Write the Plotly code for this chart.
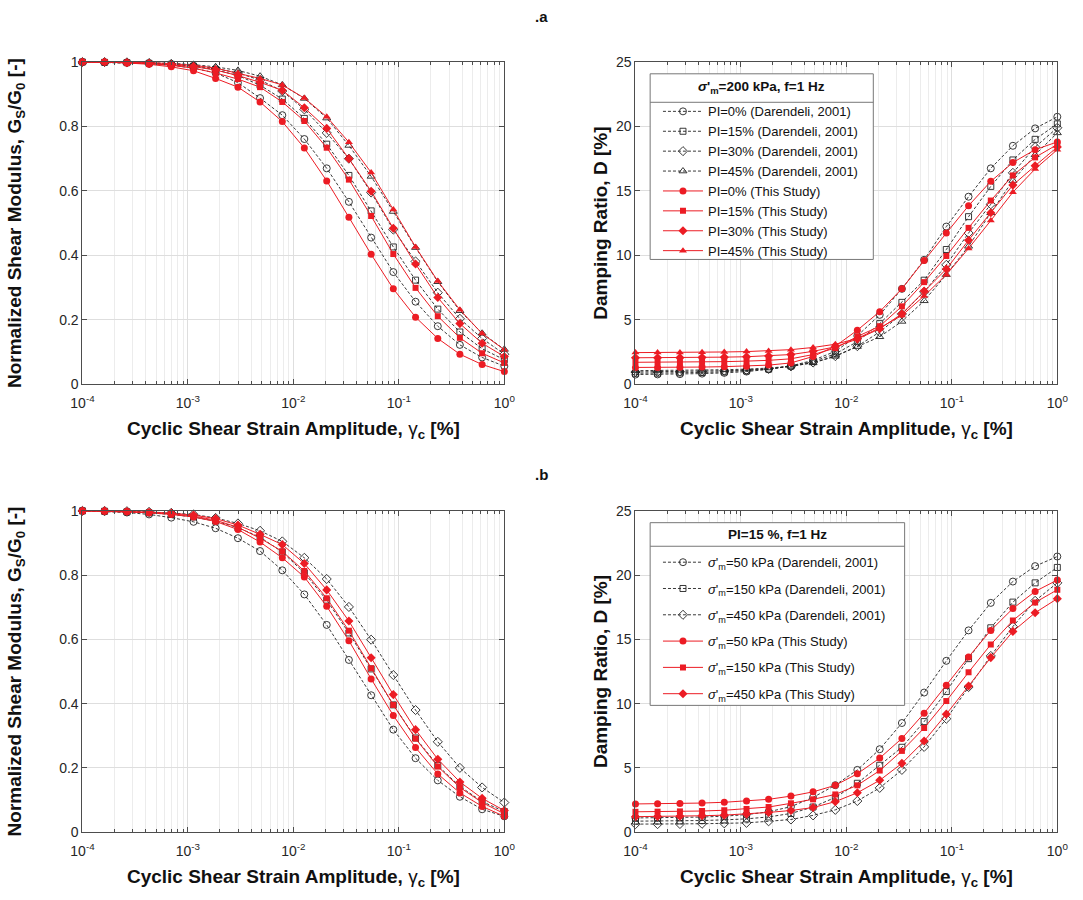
import plotly.graph_objects as go

# Cyclic shear strain amplitudes [%] (20 points per curve, 1e-4 .. 1)
STRAIN = [1.00e-4, 1.62e-4, 2.64e-4, 4.28e-4, 6.95e-4, 1.13e-3, 1.83e-3, 2.98e-3,
          4.83e-3, 7.85e-3, 1.27e-2, 2.07e-2, 3.36e-2, 5.46e-2, 8.86e-2, 1.44e-1,
          2.34e-1, 3.79e-1, 6.16e-1, 1.00]

# ---- (a) sigma'_m = 200 kPa, f = 1 Hz : G/G0 ----
GG_DAR_PI0 = [1.0, 0.999, 0.998, 0.995, 0.990, 0.981, 0.966, 0.936, 0.888, 0.835, 0.761, 0.670, 0.566, 0.455, 0.348, 0.256, 0.180, 0.122, 0.083, 0.056]
GG_DAR_PI15 = [1.0, 0.999, 0.998, 0.996, 0.993, 0.987, 0.976, 0.958, 0.928, 0.885, 0.825, 0.745, 0.648, 0.538, 0.426, 0.323, 0.233, 0.162, 0.110, 0.076]
GG_DAR_PI30 = [1.0, 1.0, 0.999, 0.997, 0.994, 0.989, 0.980, 0.966, 0.944, 0.910, 0.853, 0.780, 0.700, 0.595, 0.480, 0.381, 0.284, 0.203, 0.142, 0.093]
GG_DAR_PI45 = [1.0, 1.0, 0.999, 0.998, 0.996, 0.992, 0.985, 0.974, 0.956, 0.929, 0.887, 0.826, 0.741, 0.645, 0.536, 0.424, 0.318, 0.228, 0.158, 0.108]
GG_TS_PI0 = [1.0, 1.0, 0.997, 0.993, 0.985, 0.973, 0.949, 0.922, 0.876, 0.815, 0.733, 0.631, 0.518, 0.403, 0.296, 0.208, 0.142, 0.093, 0.061, 0.039]
GG_TS_PI15 = [1.0, 1.0, 0.998, 0.995, 0.990, 0.981, 0.966, 0.947, 0.922, 0.876, 0.817, 0.734, 0.635, 0.522, 0.404, 0.299, 0.211, 0.144, 0.096, 0.066]
GG_TS_PI30 = [1.0, 1.0, 0.998, 0.996, 0.992, 0.986, 0.975, 0.958, 0.937, 0.912, 0.858, 0.794, 0.700, 0.599, 0.484, 0.373, 0.269, 0.188, 0.127, 0.086]
GG_TS_PI45 = [1.0, 1.0, 0.999, 0.998, 0.995, 0.990, 0.981, 0.966, 0.949, 0.929, 0.888, 0.830, 0.751, 0.657, 0.542, 0.426, 0.320, 0.231, 0.157, 0.107]

# ---- (a) damping ratio [%] ----
D_DAR_PI0 = [0.75, 0.76, 0.78, 0.82, 0.88, 0.98, 1.15, 1.42, 1.85, 2.55, 3.75, 5.38, 7.40, 9.65, 12.23, 14.55, 16.75, 18.50, 19.85, 20.75]
D_DAR_PI15 = [0.85, 0.86, 0.88, 0.91, 0.96, 1.04, 1.17, 1.40, 1.76, 2.35, 3.30, 4.70, 6.35, 8.07, 10.45, 13.00, 15.35, 17.40, 19.00, 20.20]
D_DAR_PI30 = [0.95, 0.96, 0.97, 1.00, 1.04, 1.10, 1.20, 1.38, 1.68, 2.18, 2.95, 4.05, 5.45, 7.16, 9.26, 11.73, 13.96, 16.40, 18.40, 19.90]
D_DAR_PI45 = [1.05, 1.06, 1.07, 1.09, 1.12, 1.17, 1.25, 1.40, 1.65, 2.16, 2.92, 3.68, 4.87, 6.47, 8.50, 10.70, 13.30, 15.80, 17.80, 19.50]
D_TS_PI0 = [1.30, 1.30, 1.31, 1.33, 1.36, 1.40, 1.48, 1.65, 2.15, 2.95, 4.19, 5.63, 7.41, 9.59, 11.73, 13.85, 15.74, 17.20, 18.20, 18.80]
D_TS_PI15 = [1.70, 1.70, 1.71, 1.73, 1.75, 1.79, 1.85, 1.97, 2.30, 2.80, 3.70, 4.50, 6.04, 7.92, 9.95, 12.13, 14.25, 16.20, 17.60, 18.60]
D_TS_PI30 = [2.05, 2.05, 2.06, 2.08, 2.10, 2.13, 2.19, 2.30, 2.55, 2.90, 3.50, 4.30, 5.46, 7.23, 8.93, 11.17, 13.30, 15.45, 16.95, 18.40]
D_TS_PI45 = [2.45, 2.45, 2.46, 2.48, 2.50, 2.53, 2.58, 2.68, 2.85, 3.10, 3.55, 4.37, 5.33, 6.85, 8.50, 10.53, 12.70, 14.90, 16.70, 18.20]

# ---- (b) PI = 15 %, f = 1 Hz : G/G0 ----
GG_DAR_S50 = [1.0, 0.998, 0.995, 0.989, 0.979, 0.966, 0.946, 0.915, 0.875, 0.815, 0.740, 0.645, 0.536, 0.426, 0.319, 0.230, 0.161, 0.110, 0.071, 0.049]
GG_DAR_S150 = [1.0, 0.999, 0.997, 0.994, 0.989, 0.981, 0.968, 0.948, 0.918, 0.872, 0.807, 0.722, 0.620, 0.508, 0.396, 0.293, 0.207, 0.142, 0.095, 0.064]
GG_DAR_S450 = [1.0, 1.0, 0.999, 0.997, 0.994, 0.989, 0.978, 0.961, 0.938, 0.905, 0.854, 0.788, 0.701, 0.599, 0.489, 0.380, 0.281, 0.200, 0.139, 0.092]
GG_TS_S50 = [1.0, 0.999, 0.997, 0.994, 0.989, 0.981, 0.967, 0.942, 0.903, 0.854, 0.794, 0.703, 0.596, 0.477, 0.363, 0.263, 0.181, 0.122, 0.080, 0.049]
GG_TS_S150 = [1.0, 0.999, 0.998, 0.995, 0.991, 0.984, 0.971, 0.949, 0.915, 0.874, 0.813, 0.728, 0.627, 0.510, 0.396, 0.291, 0.204, 0.139, 0.092, 0.057]
GG_TS_S450 = [1.0, 1.0, 0.998, 0.996, 0.993, 0.987, 0.976, 0.956, 0.927, 0.895, 0.836, 0.754, 0.657, 0.543, 0.428, 0.319, 0.227, 0.156, 0.105, 0.067]

# ---- (b) damping ratio [%] ----
D_DAR_S50 = [1.10, 1.11, 1.13, 1.17, 1.24, 1.36, 1.58, 1.98, 2.70, 3.65, 4.84, 6.45, 8.49, 10.86, 13.33, 15.70, 17.84, 19.50, 20.70, 21.45]
D_DAR_S150 = [0.85, 0.86, 0.87, 0.90, 0.95, 1.03, 1.18, 1.45, 1.95, 2.70, 3.80, 5.20, 6.60, 8.60, 10.94, 13.50, 15.90, 17.90, 19.40, 20.60]
D_DAR_S450 = [0.62, 0.62, 0.63, 0.65, 0.68, 0.72, 0.84, 0.98, 1.30, 1.73, 2.42, 3.44, 4.84, 6.63, 8.82, 11.29, 13.71, 16.00, 18.00, 19.40]
D_TS_S50 = [2.19, 2.20, 2.22, 2.26, 2.32, 2.42, 2.55, 2.80, 3.13, 3.64, 4.54, 5.76, 7.29, 9.25, 11.42, 13.63, 15.70, 17.40, 18.73, 19.62]
D_TS_S150 = [1.58, 1.59, 1.61, 1.64, 1.70, 1.80, 1.95, 2.24, 2.55, 2.93, 3.64, 4.79, 6.32, 8.10, 10.20, 12.44, 14.60, 16.47, 17.87, 18.86]
D_TS_S450 = [1.20, 1.21, 1.23, 1.27, 1.32, 1.40, 1.53, 1.68, 1.91, 2.37, 3.06, 4.03, 5.35, 7.09, 9.18, 11.37, 13.58, 15.62, 17.07, 18.17]

# Axis tick labels
X_TICKS = [1e-4, 1e-3, 1e-2, 1e-1, 1]
X_TICKTEXT = ["10<sup>-4</sup>", "10<sup>-3</sup>", "10<sup>-2</sup>", "10<sup>-1</sup>", "10<sup>0</sup>"]
GG_TICKS = [0, 0.2, 0.4, 0.6, 0.8, 1]
GG_TICKTEXT = ["0", "0.2", "0.4", "0.6", "0.8", "1"]
D_TICKS = [0, 5, 10, 15, 20, 25]

PI_LABELS = ["PI=0%", "PI=15%", "PI=30%", "PI=45%"]
SIG_LABELS = ["<i>σ</i>'<sub>m</sub>=50 kPa", "<i>σ</i>'<sub>m</sub>=150 kPa", "<i>σ</i>'<sub>m</sub>=450 kPa"]
SYMBOLS = ["circle", "square", "diamond", "triangle-up"]
MARKER_SIZE = {"circle": 7, "square": 6, "diamond": 7, "triangle-up": 7}

RED = "#ec1c24"
BLACK = "#222222"
AXIS_COL = "#4d4d4d"
TEXT_COL = "#262626"
GRID = "#dedede"
MINOR_GRID = "#ececec"
FONT = "Liberation Sans, Arial, sans-serif"

W, H = 1083, 900

fig = go.Figure()


def add_curve(xa, ya, yvals, name, symbol, study, legend=None, group=None):
    if study:
        line = dict(color=RED, width=1)
        marker = dict(symbol=symbol, size=MARKER_SIZE[symbol], color=RED,
                      line=dict(width=0))
    else:
        line = dict(color=BLACK, width=0.9, dash="3px,2px")
        marker = dict(symbol=symbol + "-open", size=MARKER_SIZE[symbol], color=BLACK,
                      line=dict(width=0.9, color=BLACK))
    fig.add_trace(go.Scatter(
        x=STRAIN, y=yvals, name=name, mode="lines+markers",
        line=line, marker=marker, xaxis=xa, yaxis=ya, cliponaxis=False,
        showlegend=legend is not None, legend=legend or "legend",
        legendgroup=group,
    ))


# Panel (a)
gg_dar_a = [GG_DAR_PI0, GG_DAR_PI15, GG_DAR_PI30, GG_DAR_PI45]
gg_ts_a = [GG_TS_PI0, GG_TS_PI15, GG_TS_PI30, GG_TS_PI45]
d_dar_a = [D_DAR_PI0, D_DAR_PI15, D_DAR_PI30, D_DAR_PI45]
d_ts_a = [D_TS_PI0, D_TS_PI15, D_TS_PI30, D_TS_PI45]
for lab, sym, ys in zip(PI_LABELS, SYMBOLS, gg_dar_a):
    add_curve("x", "y", ys, lab + " (Darendeli, 2001)", sym, False)
for lab, sym, ys in zip(PI_LABELS, SYMBOLS, gg_ts_a):
    add_curve("x", "y", ys, lab + " (This Study)", sym, True)
for lab, sym, ys in zip(PI_LABELS, SYMBOLS, d_dar_a):
    add_curve("x2", "y2", ys, lab + " (Darendeli, 2001)", sym, False, "legend")
for lab, sym, ys in zip(PI_LABELS, SYMBOLS, d_ts_a):
    add_curve("x2", "y2", ys, lab + " (This Study)", sym, True, "legend")

# Panel (b)
sym_b = ["circle", "square", "diamond"]
gg_dar_b = [GG_DAR_S50, GG_DAR_S150, GG_DAR_S450]
gg_ts_b = [GG_TS_S50, GG_TS_S150, GG_TS_S450]
d_dar_b = [D_DAR_S50, D_DAR_S150, D_DAR_S450]
d_ts_b = [D_TS_S50, D_TS_S150, D_TS_S450]
for lab, sym, ys in zip(SIG_LABELS, sym_b, gg_dar_b):
    add_curve("x3", "y3", ys, lab + " (Darendeli, 2001)", sym, False)
for lab, sym, ys in zip(SIG_LABELS, sym_b, gg_ts_b):
    add_curve("x3", "y3", ys, lab + " (This Study)", sym, True)
for i, (lab, sym, ys) in enumerate(zip(SIG_LABELS, sym_b, d_dar_b)):
    add_curve("x4", "y4", ys, lab + " (Darendeli, 2001)", sym, False, "legend2", f"bd{i}")
for i, (lab, sym, ys) in enumerate(zip(SIG_LABELS, sym_b, d_ts_b)):
    add_curve("x4", "y4", ys, lab + " (This Study)", sym, True, "legend2", f"bt{i}")

X_TITLE = "<b>Cyclic Shear Strain Amplitude, </b>γ<sub><b>c</b></sub><b> [%]</b>"
GG_TITLE = "<b>Normalized Shear Modulus, G<sub>S</sub>/G<sub>0</sub> [-]</b>"
D_TITLE = "<b>Damping Ratio, D [%]</b>"

LEFT_X = [72 / W, 503 / W]
RIGHT_X = [637 / W, 1068 / W]
TOP_Y = [1 - 383 / H, 1 - 55 / H]
BOT_Y = [1 - 839 / H, 1 - 512 / H]


def x_axis(domain, anchor):
    return dict(
        type="log", range=[-4, 0], domain=domain, anchor=anchor,
        tickmode="array", tickvals=X_TICKS, ticktext=X_TICKTEXT,
        ticks="inside", ticklen=5, tickcolor=AXIS_COL, ticklabelstandoff=6,
        showline=True, linecolor=AXIS_COL, linewidth=1, mirror="ticks",
        showgrid=True, gridcolor=GRID, gridwidth=1, zeroline=False,
        minor=dict(dtick="D1", ticks="inside", ticklen=3, tickcolor=AXIS_COL,
                   showgrid=True, gridcolor=MINOR_GRID, gridwidth=1),
        tickfont=dict(size=14, color=TEXT_COL, family=FONT),
        title=dict(text=X_TITLE, font=dict(size=19, color="#111111", family=FONT), standoff=11),
    )


def y_axis(domain, anchor, rng, tickvals, ticktext, title, standoff):
    return dict(
        range=rng, domain=domain, anchor=anchor,
        tickmode="array", tickvals=tickvals, ticktext=ticktext,
        ticks="inside", ticklen=5, tickcolor=AXIS_COL,
        showline=True, linecolor=AXIS_COL, linewidth=1, mirror="ticks",
        showgrid=True, gridcolor=GRID, gridwidth=1, zeroline=False,
        tickfont=dict(size=14, color=TEXT_COL, family=FONT),
        title=dict(text=title, font=dict(size=19, color="#111111", family=FONT), standoff=standoff),
    )


legend_common = dict(
    xanchor="left", yanchor="top", bgcolor="rgba(0,0,0,0)", borderwidth=0,
    font=dict(size=13, color="#111111", family=FONT), itemclick=False, itemwidth=40,
)

# Legend frames (box + header separator), drawn over the curves
LEG_A = dict(x0=652, x1=880, y0=67, y1=256, sep=96, head_y=81)
LEG_B = dict(x0=652, x1=912, y0=524, y1=710, sep=548, head_y=536)

shapes = []
for box in (LEG_A, LEG_B):
    shapes.append(dict(type="rect", xref="paper", yref="paper", layer="above",
                       x0=box["x0"] / W, x1=box["x1"] / W,
                       y0=1 - box["y1"] / H, y1=1 - box["y0"] / H,
                       fillcolor="white", line=dict(color="#777777", width=1)))
    shapes.append(dict(type="line", xref="paper", yref="paper", layer="above",
                       x0=box["x0"] / W, x1=box["x1"] / W,
                       y0=1 - box["sep"] / H, y1=1 - box["sep"] / H,
                       line=dict(color="#777777", width=1)))

fig.update_layout(
    width=W, height=H, margin=dict(l=0, r=0, t=0, b=0),
    paper_bgcolor="white", plot_bgcolor="white",
    font=dict(family=FONT, color=TEXT_COL),
    xaxis=x_axis(LEFT_X, "y"),
    yaxis=y_axis(TOP_Y, "x", [0, 1], GG_TICKS, GG_TICKTEXT, GG_TITLE, 32),
    xaxis2=x_axis(RIGHT_X, "y2"),
    yaxis2=y_axis(TOP_Y, "x2", [0, 25], D_TICKS, [str(v) for v in D_TICKS], D_TITLE, 3),
    xaxis3=x_axis(LEFT_X, "y3"),
    yaxis3=y_axis(BOT_Y, "x3", [0, 1], GG_TICKS, GG_TICKTEXT, GG_TITLE, 32),
    xaxis4=x_axis(RIGHT_X, "y4"),
    yaxis4=y_axis(BOT_Y, "x4", [0, 25], D_TICKS, [str(v) for v in D_TICKS], D_TITLE, 3),
    legend=dict(x=660 / W, y=1 - 90 / H, traceorder="normal", **legend_common),
    legend2=dict(x=660 / W, y=1 - 549 / H, traceorder="grouped", tracegroupgap=6.4,
                 **legend_common),
    shapes=shapes,
    annotations=[
        dict(text="<b>.a</b>", x=541 / W, y=1 - 9 / H, xref="paper", yref="paper",
             yanchor="middle", showarrow=False, font=dict(size=15, color="#111111", family=FONT)),
        dict(text="<b>.b</b>", x=541 / W, y=1 - 475 / H, xref="paper", yref="paper",
             yanchor="middle", showarrow=False, font=dict(size=15, color="#111111", family=FONT)),
        dict(text="<b><i>σ</i>'<sub>m</sub>=200 kPa, f=1 Hz</b>",
             x=(LEG_A["x0"] + LEG_A["x1"]) / 2 / W, y=1 - LEG_A["head_y"] / H,
             xref="paper", yref="paper", xanchor="center", yanchor="middle", showarrow=False,
             font=dict(size=13.5, color="#111111", family=FONT)),
        dict(text="<b>PI=15 %, f=1 Hz</b>",
             x=(LEG_B["x0"] + LEG_B["x1"]) / 2 / W, y=1 - LEG_B["head_y"] / H,
             xref="paper", yref="paper", xanchor="center", yanchor="middle", showarrow=False,
             font=dict(size=13.5, color="#111111", family=FONT)),
    ],
)

fig.write_html("out.html")
